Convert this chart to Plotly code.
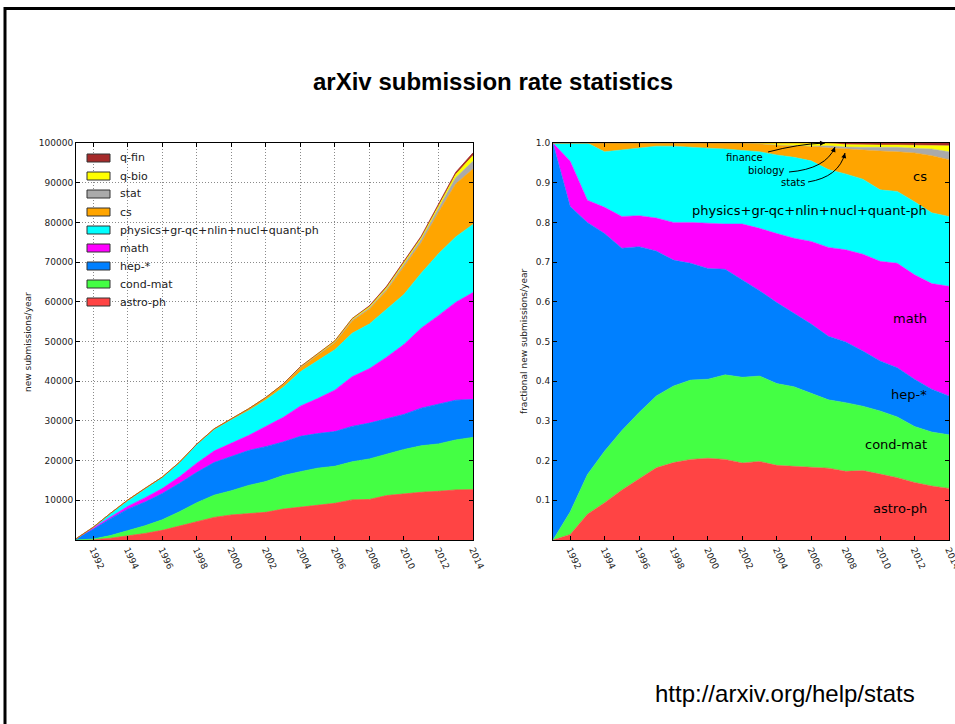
import math as pymath
import plotly.graph_objects as go

# ---------------- data ----------------
years = list(range(1991, 2015))

astro_ph = [0, 45, 437, 947, 1639, 2426, 3571, 4715, 5683, 6306, 6710, 6966,
            7782, 8208, 8716, 9234, 10097, 10208, 11191, 11642, 12016, 12267, 12599, 12677]
cond_mat = [0, 184, 673, 1309, 1951, 2664, 3552, 4667, 5599, 6092, 7041, 7756,
            8450, 8994, 9372, 9335, 9595, 10208, 10360, 11151, 11709, 11929, 12599, 13165]
hep = [302, 2477, 4274, 5520, 5971, 6628, 7162, 7666, 8230, 8540, 8793, 8798,
       8450, 8907, 8716, 8733, 8925, 9028, 8889, 8836, 9490, 10068, 10005, 9557]
math_ = [0, 367, 377, 665, 1041, 1237, 1629, 2297, 2883, 3490, 3768, 5063,
         6170, 7597, 8809, 10439, 12496, 13689, 15604, 17603, 20128, 22251, 24643, 26915]
physics = [0, 148, 969, 1410, 2186, 2696, 3552, 4643, 5291, 5785, 6247, 6679,
           7585, 8645, 9559, 10188, 10934, 11270, 12087, 12623, 13852, 15567, 16490, 17163]
cs = [0, 0, 0, 222, 221, 206, 157, 193, 308, 398, 496, 646,
      786, 1092, 1406, 1857, 3068, 3717, 4668, 6873, 7653, 10406, 13340, 13945]
stat = [0, 0, 0, 0, 0, 0, 0, 0, 0, 0, 0, 0,
        0, 0, 0, 0, 279, 295, 448, 631, 842, 1015, 1575, 1950]
q_bio = [0, 0, 0, 0, 0, 0, 0, 0, 0, 0, 0, 0,
         79, 218, 281, 401, 390, 354, 384, 421, 459, 592, 834, 1463]
q_fin = [0, 0, 0, 0, 0, 0, 0, 0, 0, 0, 0, 0,
         0, 0, 0, 0, 0, 236, 320, 351, 383, 508, 556, 683]

names = ["astro-ph", "cond-mat", "hep-*", "math",
         "physics+gr-qc+nlin+nucl+quant-ph", "cs", "stat", "q-bio", "q-fin"]
colors = ["#FF4444", "#44FF44", "#0080FF", "#FF00FF",
          "#00FFFF", "#FFA500", "#AAAAAA", "#FFFF00", "#A52A2A"]
series = [astro_ph, cond_mat, hep, math_, physics, cs, stat, q_bio, q_fin]

x_tickvals = list(range(1992, 2015, 2))
x_ticktext = [str(v) for v in x_tickvals]
y1_tickvals = list(range(10000, 100001, 10000))
y1_ticktext = [str(v) for v in y1_tickvals]
y2_tickvals = [0.1, 0.2, 0.3, 0.4, 0.5, 0.6, 0.7, 0.8, 0.9, 1.0]
y2_ticktext = ["0.1", "0.2", "0.3", "0.4", "0.5", "0.6", "0.7", "0.8", "0.9", "1.0"]

# ---------------- layout helpers ----------------
W, H = 955, 724
def px(x):
    return x / W
def py(y):
    return 1 - y / H

FONT = "DejaVu Sans"
fig = go.Figure()

for name, col, vals in zip(names, colors, series):
    fig.add_trace(go.Scatter(
        x=years, y=vals, name=name, stackgroup="abs", mode="lines",
        line=dict(color=col, width=0.8), fillcolor=col,
        xaxis="x", yaxis="y", hoverinfo="x+y+name"))

for name, col, vals in zip(names, colors, series):
    fig.add_trace(go.Scatter(
        x=years, y=vals, name=name, stackgroup="frac", groupnorm="fraction",
        mode="lines", line=dict(color=col, width=0.5), fillcolor=col,
        xaxis="x2", yaxis="y2", hoverinfo="x+y+name"))

common = dict(showline=True, linecolor="black", linewidth=1, mirror="ticks",
              ticks="inside", ticklen=4, tickcolor="black", tickwidth=1,
              tickfont=dict(family=FONT, size=9, color="#222"),
              layer="above traces", zeroline=False, fixedrange=True)

GRID = dict(showgrid=True, gridcolor="#8a8a8a", griddash="1px,2px", gridwidth=1)

fig.update_layout(
    autosize=True, margin=dict(l=0, r=0, t=0, b=0, autoexpand=False),
    paper_bgcolor="white", plot_bgcolor="white",
    showlegend=False,
    xaxis=dict(domain=[px(76), px(473)], range=[1991, 2014], anchor="y",
               tickvals=x_tickvals, ticktext=x_ticktext, tickangle=65,
               ticklabeloverflow="allow", **GRID, **common),
    yaxis=dict(domain=[py(540), py(143)], range=[0, 100000], anchor="x",
               tickvals=y1_tickvals, ticktext=y1_ticktext,
               **GRID, **common),
    xaxis2=dict(domain=[px(553), px(949)], range=[1991, 2014], anchor="y2",
                tickvals=x_tickvals, ticktext=x_ticktext, tickangle=65,
                ticklabeloverflow="allow", showgrid=False, **common),
    yaxis2=dict(domain=[py(540), py(143)], range=[0, 1], anchor="x2",
                tickvals=y2_tickvals, ticktext=y2_ticktext,
                showgrid=False, **common),
)

ann = []
shapes = []
ann.append(dict(text="<b>arXiv submission rate statistics</b>", x=px(493), y=py(81),
                xref="paper", yref="paper", xanchor="center", yanchor="middle",
                showarrow=False, font=dict(family="Liberation Sans", size=24, color="black")))
ann.append(dict(text="http://arxiv.org/help/stats", x=px(653), y=py(693),
                xref="paper", yref="paper", xanchor="left", yanchor="middle",
                showarrow=False, font=dict(family="Liberation Sans", size=24, color="black")))
ann.append(dict(text="new submissions/year", x=px(28), y=py(342), textangle=-90,
                xref="paper", yref="paper", xanchor="center", yanchor="middle",
                showarrow=False, font=dict(family=FONT, size=9, color="#222")))
ann.append(dict(text="fractional new submissions/year", x=px(524), y=py(342), textangle=-90,
                xref="paper", yref="paper", xanchor="center", yanchor="middle",
                showarrow=False, font=dict(family=FONT, size=9, color="#222")))

# legend (drawn as swatches + labels, top entry = last stacked series)
for i, (name, col) in enumerate(zip(names[::-1], colors[::-1])):
    yc = 158 + 18 * i
    shapes.append(dict(type="rect", xref="paper", yref="paper",
                       x0=px(87), x1=px(110), y0=py(yc - 4), y1=py(yc + 4),
                       fillcolor=col, line=dict(color="#333333", width=1)))
    ann.append(dict(text=name, x=px(118), y=py(yc), xref="paper", yref="paper",
                    xanchor="left", yanchor="middle", showarrow=False,
                    font=dict(family=FONT, size=11, color="#222")))

labels_right = [("cs", 176), ("math", 318), ("hep-*", 394), ("cond-mat", 445), ("astro-ph", 509)]
for t, yy in labels_right:
    ann.append(dict(text=t, x=px(929), y=py(yy), xref="paper", yref="paper",
                    xanchor="right", yanchor="middle", showarrow=False,
                    font=dict(family=FONT, size=13, color="black")))
ann.append(dict(text="physics+gr-qc+nlin+nucl+quant-ph", x=px(809.5), y=py(211),
                xref="paper", yref="paper", xanchor="center", yanchor="middle",
                showarrow=False, font=dict(family=FONT, size=13, color="black")))

small = [("finance", 744.5, 158), ("biology", 766, 171), ("stats", 793, 183)]
for t, xx, yy in small:
    ann.append(dict(text=t, x=px(xx), y=py(yy), xref="paper", yref="paper",
                    xanchor="center", yanchor="middle", showarrow=False,
                    font=dict(family=FONT, size=10, color="black")))

# curved arrows: (tail px, control px, head px)
curves = [((768, 152), (798, 144), (825, 143)),
          ((789, 172), (826, 169), (835, 147)),
          ((808, 182), (839, 177), (845, 153))]
for (x0, y0), (cx, cy), (x1, y1) in curves:
    path = "M %.5f,%.5f Q %.5f,%.5f %.5f,%.5f" % (px(x0), py(y0), px(cx), py(cy), px(x1), py(y1))
    shapes.append(dict(type="path", xref="paper", yref="paper", path=path,
                       line=dict(color="black", width=1)))
    dx, dy = x1 - cx, y1 - cy
    n = pymath.hypot(dx, dy)
    ann.append(dict(text="", x=px(x1), y=py(y1), xref="paper", yref="paper",
                    ax=-7 * dx / n, ay=-7 * dy / n, showarrow=True, arrowhead=2,
                    arrowsize=1, arrowwidth=1, arrowcolor="black",
                    standoff=0, startstandoff=0))

# slide frame
shapes.append(dict(type="line", xref="paper", yref="paper", x0=px(4), x1=px(955),
                   y0=py(8.5), y1=py(8.5), line=dict(color="black", width=3)))
shapes.append(dict(type="line", xref="paper", yref="paper", x0=px(5), x1=px(5),
                   y0=py(7), y1=py(724), line=dict(color="black", width=3)))

fig.update_layout(annotations=ann, shapes=shapes)

post = (
    "document.documentElement.style.margin='0';"
    "document.documentElement.style.overflow='hidden';"
    "document.body.style.margin='0';"
    "document.body.style.padding='0';"
    "document.body.style.overflow='hidden';"
    "var d=document.getElementById('{plot_id}');"
    "d.style.position='fixed';d.style.left='0px';d.style.top='0px';"
)
fig.write_html("out.html", config={"displayModeBar": False, "responsive": True},
               default_width="100vw", default_height="100vh", post_script=post)
